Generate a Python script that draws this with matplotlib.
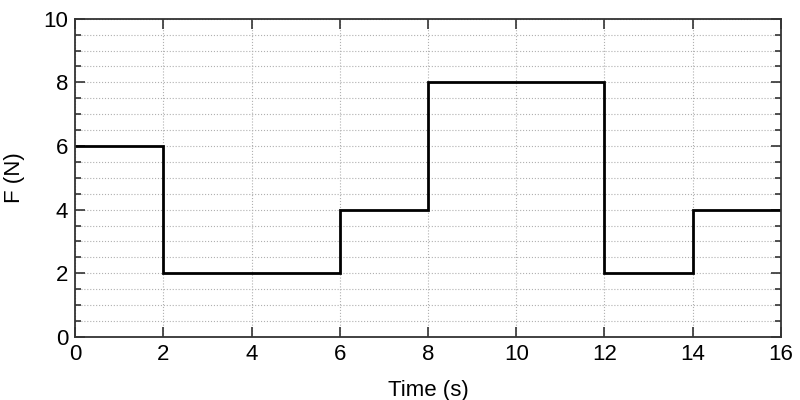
import matplotlib
matplotlib.use("Agg")
import matplotlib.pyplot as plt
from matplotlib.ticker import MultipleLocator

# step edges and force levels
t_edges = [0, 2, 6, 8, 12, 14, 16]
force = [6, 2, 4, 8, 2, 4]

plt.rcParams['font.family'] = ['Liberation Sans', 'DejaVu Sans']

fig = plt.figure(figsize=(8, 4), dpi=100)
ax = fig.add_axes([0.094, 0.158, 0.882, 0.795])

ax.stairs(force, t_edges, color='black', linewidth=2, baseline=None)

ax.set_xlim(0, 16)
ax.set_ylim(0, 10)
ax.xaxis.set_major_locator(MultipleLocator(2))
ax.yaxis.set_major_locator(MultipleLocator(2))
ax.yaxis.set_minor_locator(MultipleLocator(0.5))

ax.grid(which='major', color='#b0b0b0', linestyle=':', linewidth=0.8)
ax.grid(which='minor', axis='y', color='#b0b0b0', linestyle=':', linewidth=0.8)
ax.set_axisbelow(True)

ax.tick_params(which='both', direction='in', top=True, right=True, labelsize=16,
               width=1.2, color='#333333', pad=5)
ax.tick_params(which='major', length=7)
ax.tick_params(which='minor', length=4)
for s in ax.spines.values():
    s.set_linewidth(1.3)
    s.set_color('#333333')

ax.set_xlabel('Time (s)', fontsize=16, labelpad=11)
ax.set_ylabel('F (N)', fontsize=16, labelpad=13)

fig.savefig('out.png', dpi=100)
